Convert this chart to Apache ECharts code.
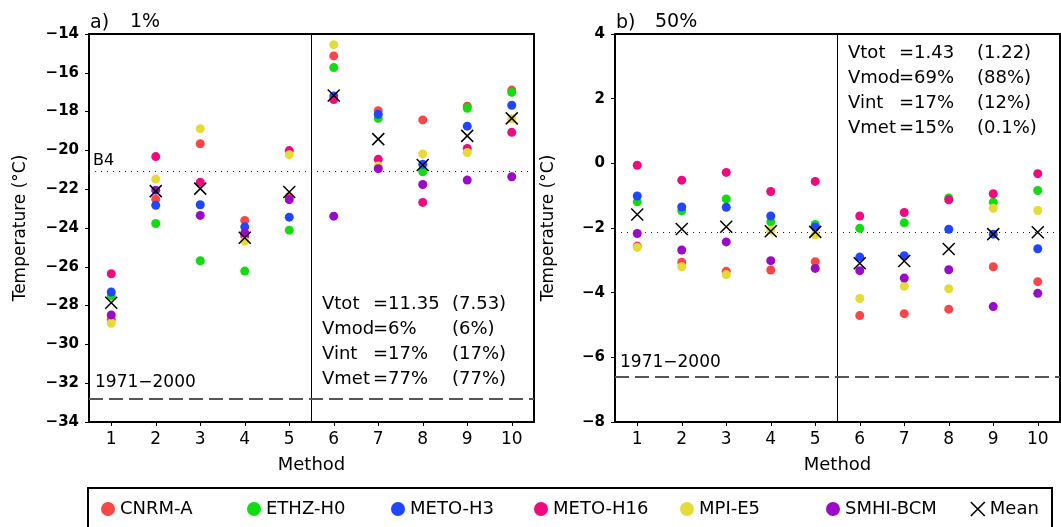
<!DOCTYPE html>
<html><head><meta charset="utf-8">
<script src="https://cdn.jsdelivr.net/npm/echarts@6/dist/echarts.min.js"></script>
<style>html,body{margin:0;padding:0;background:#fff}#c{width:1061px;height:527px}</style>
</head><body><div id="c"></div>
<script>
// ---- data ----
const methods = [1, 2, 3, 4, 5, 6, 7, 8, 9, 10];
const models = ['CNRM-A', 'ETHZ-H0', 'METO-H3', 'METO-H16', 'MPI-E5', 'SMHI-BCM'];
const modelColors = ['#fa4646', '#10dc10', '#2046ff', '#f00a80', '#e6da36', '#9a0ac8'];

// panel a) 1%
const cnrmA = [-28.7, -22.52, -19.66, -23.61, -22.4, -15.13, -17.95, -18.43, -17.72, -16.89];
const ethzA = [-27.5, -23.77, -25.69, -26.22, -24.11, -15.73, -18.35, -21.1, -17.83, -17.0];
const metoH3A = [-27.3, -22.83, -22.8, -23.94, -23.44, -17.2, -18.14, -20.72, -18.75, -17.67];
const metoH16A = [-26.36, -20.32, -21.64, -24.4, -20.01, -17.38, -20.46, -22.68, -19.9, -19.07];
const mpiA = [-28.91, -21.48, -18.88, -24.68, -20.22, -14.55, -20.8, -20.18, -20.11, -18.37];
const smhiA = [-28.48, -22.05, -23.35, -24.25, -22.54, -23.39, -20.94, -21.76, -21.53, -21.36];
const meanA = [-27.85, -22.1, -21.97, -24.5, -22.14, -17.17, -19.42, -20.75, -19.25, -18.35];
const b4A = -21.05;
const baseA = -32.8;

// panel b) 50%
const cnrmB = [-2.56, -3.06, -3.34, -3.3, -3.04, -4.71, -4.65, -4.51, -3.2, -3.66];
const ethzB = [-1.19, -1.47, -1.1, -1.81, -1.89, -2.01, -1.84, -1.07, -1.2, -0.84];
const metoH3B = [-1.01, -1.35, -1.36, -1.63, -1.97, -2.9, -2.86, -2.04, -2.19, -2.64];
const metoH16B = [-0.06, -0.52, -0.28, -0.87, -0.56, -1.63, -1.52, -1.13, -0.94, -0.32];
const mpiB = [-2.6, -3.2, -3.44, -2.07, -2.21, -4.18, -3.8, -3.88, -1.39, -1.46];
const smhiB = [-2.17, -2.68, -2.43, -3.01, -3.25, -3.32, -3.55, -3.29, -4.43, -4.02];
const meanB = [-1.58, -2.03, -1.96, -2.1, -2.12, -3.09, -3.02, -2.65, -2.19, -2.13];
const b4B = -2.12;
const baseB = -6.6;

const statNames = ['Vtot', 'Vmod', 'Vint', 'Vmet'];
const statsA = ['=11.35', '=6%', '=17%', '=77%'];
const statsAParen = ['(7.53)', '(6%)', '(17%)', '(77%)'];
const statsB = ['=1.43', '=69%', '=17%', '=15%'];
const statsBParen = ['(1.22)', '(88%)', '(12%)', '(0.1%)'];

const yTicksA = { min: -34, max: -14, interval: 2 };
const yTicksB = { min: -8, max: 4, interval: 2 };
// ---- end data ----

const FONT = 'DejaVu Sans';
const crossPath = 'path://M0,0L10,10M10,0L0,10';

const chart = echarts.init(document.getElementById('c'), null, { renderer: 'canvas' });

function minusFmt(v) { return String(v).replace('-', '\u2212'); }

function xAxisCfg(gi) {
  return {
    type: 'value', gridIndex: gi, min: 0.5, max: 10.5,
    name: 'Method', nameLocation: 'middle', nameGap: 34,
    nameTextStyle: { fontFamily: FONT, fontSize: 18, color: '#000' },
    axisLine: { show: true, onZero: false, lineStyle: { color: '#000', width: 2 } },
    axisTick: { show: true, inside: false, length: 4, customValues: methods, lineStyle: { color: '#000', width: 1 } },
    axisLabel: { show: true, customValues: methods, margin: 9, fontFamily: FONT, fontSize: 17, color: '#000' },
    splitLine: { show: false }
  };
}
function yAxisCfg(gi, t, gap) {
  return {
    type: 'value', gridIndex: gi, min: t.min, max: t.max, interval: t.interval,
    name: 'Temperature (°C)', nameLocation: 'middle', nameGap: gap, nameRotate: 90,
    nameTextStyle: { fontFamily: FONT, fontSize: 17, color: '#000' },
    axisLine: { show: true, onZero: false, lineStyle: { color: '#000', width: 2 } },
    axisTick: { show: true, inside: false, length: 4, lineStyle: { color: '#000', width: 1 } },
    axisLabel: { formatter: minusFmt, margin: 10, fontFamily: FONT, fontWeight: 'bold', fontSize: 15, color: '#000' },
    splitLine: { show: false }
  };
}

function pointSeries(name, vals, color, gi, z) {
  return {
    type: 'scatter', name: name, xAxisIndex: gi, yAxisIndex: gi,
    data: methods.map((m, k) => [m, vals[k]]),
    symbol: 'circle', symbolSize: 9, z: z,
    itemStyle: { color: color, opacity: 1 },
    emphasis: { disabled: true }, silent: true
  };
}
function meanSeries(vals, gi) {
  return {
    type: 'scatter', name: 'Mean', xAxisIndex: gi, yAxisIndex: gi,
    data: methods.map((m, k) => [m, vals[k]]),
    symbol: crossPath, symbolSize: 12, z: 20,
    itemStyle: { color: 'rgba(0,0,0,0)', borderColor: '#000', borderWidth: 1.5, opacity: 1 },
    emphasis: { disabled: true }, silent: true
  };
}
function refLines(gi, b4, base) {
  return {
    type: 'scatter', name: 'ref' + gi, xAxisIndex: gi, yAxisIndex: gi, data: [], z: 1, silent: true,
    markLine: {
      silent: true, symbol: ['none', 'none'], label: { show: false }, animation: false,
      data: [
        { xAxis: 5.5, lineStyle: { color: '#000', width: 1, type: 'solid', opacity: 1 } },
        { yAxis: b4, lineStyle: { color: '#222', width: 1.2, type: [1, 5], opacity: 1 } },
        { yAxis: base, lineStyle: { color: '#555', width: 2, type: [14, 6], opacity: 1 } }
      ]
    }
  };
}

const setsA = [cnrmA, ethzA, metoH3A, metoH16A, mpiA, smhiA];
const setsB = [cnrmB, ethzB, metoH3B, metoH16B, mpiB, smhiB];

const series = [refLines(0, b4A, baseA), refLines(1, b4B, baseB)];
models.forEach((m, i) => series.push(pointSeries(m, setsA[i], modelColors[i], 0, 5 + i)));
series.push(meanSeries(meanA, 0));
models.forEach((m, i) => series.push(pointSeries(m, setsB[i], modelColors[i], 1, 5 + i)));
series.push(meanSeries(meanB, 1));

function txt(x, y, s, size, extra) {
  return Object.assign({
    type: 'text', silent: true, z: 50,
    style: { x: x, y: y, text: s, fontFamily: FONT, fontSize: size, fill: '#000', verticalAlign: 'middle', align: 'left' }
  }, extra || {});
}

const graphics = [
  txt(90, 23, 'a)', 19), txt(130, 22, '1%', 19),
  txt(616, 23, 'b)', 19), txt(655, 22, '50%', 19),
  txt(93, 161, 'B4', 16),
  txt(95, 383, '1971\u22122000', 17),
  txt(620, 363, '1971\u22122000', 17)
];
const rowsA = [304, 329, 354, 379];
const rowsB = [53, 78, 103, 128];
statNames.forEach((n, i) => {
  graphics.push(txt(322, rowsA[i], n, 18));
  graphics.push(txt(373, rowsA[i], statsA[i], 18));
  graphics.push(txt(452, rowsA[i], statsAParen[i], 18));
  graphics.push(txt(848, rowsB[i], n, 18));
  graphics.push(txt(899, rowsB[i], statsB[i], 18));
  graphics.push(txt(977, rowsB[i], statsBParen[i], 18));
});
// legend frame
graphics.push({ type: 'rect', silent: true, z: 0, shape: { x: 88, y: 488, width: 964, height: 60 },
  style: { fill: 'none', stroke: '#000', lineWidth: 2 } });

// one legend component per entry so the entries sit on an even pitch
const legendNames = models.concat(['Mean']);
const legendIcons = models.map(() => 'circle').concat([crossPath]);
const legendLefts = [101, 247, 391, 534, 680, 826, 970];
const legends = legendNames.map((n, i) => ({
  data: [{
    name: n, icon: legendIcons[i],
    itemStyle: i < models.length ? { color: modelColors[i], opacity: 1 }
      : { color: 'rgba(0,0,0,0)', borderColor: '#000', borderWidth: 1.6, opacity: 1 }
  }],
  left: legendLefts[i], top: 500, padding: 0,
  itemWidth: 14, itemHeight: 14, itemGap: 0, selectedMode: false,
  textStyle: { fontFamily: FONT, fontSize: 18, color: '#000' }
}));

chart.setOption({
  animation: false,
  backgroundColor: '#fff',
  textStyle: { fontFamily: FONT },
  grid: [
    { left: 89, top: 34, width: 445, height: 388, show: true, borderColor: '#000', borderWidth: 2, containLabel: false },
    { left: 615, top: 34, width: 445, height: 388, show: true, borderColor: '#000', borderWidth: 2, containLabel: false }
  ],
  xAxis: [xAxisCfg(0), xAxisCfg(1)],
  yAxis: [yAxisCfg(0, yTicksA, 60), yAxisCfg(1, yTicksB, 58)],
  legend: legends,
  graphic: graphics,
  series: series
});
</script>
</body></html>
